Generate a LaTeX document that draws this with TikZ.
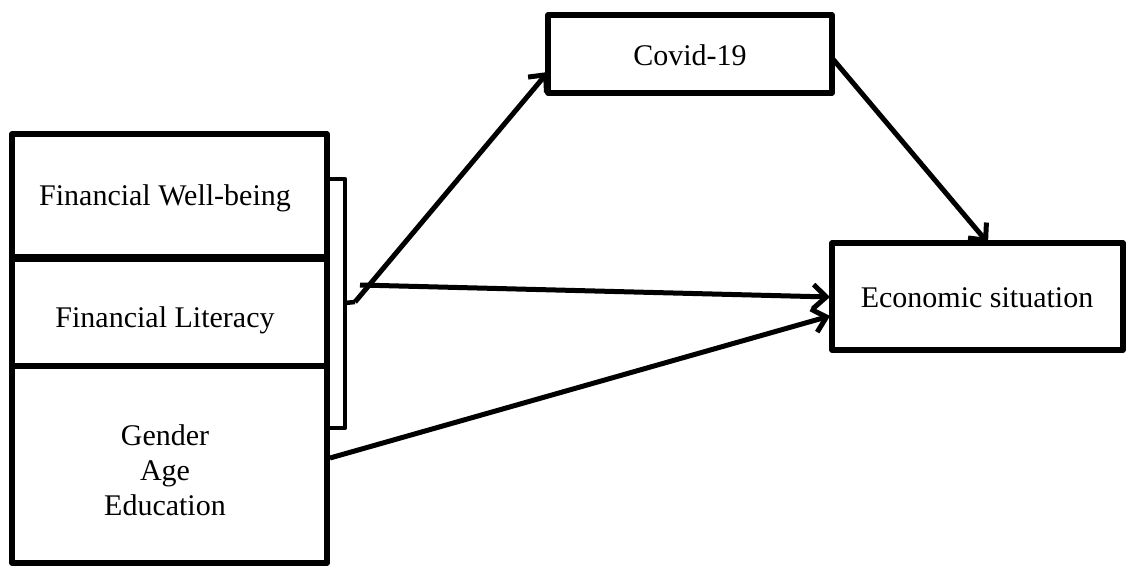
\documentclass[tikz,border=0pt]{standalone}
\usepackage{fontspec}
\setmainfont{Liberation Serif}
\usetikzlibrary{arrows.meta}
\begin{document}
\begin{tikzpicture}[x=1pt,y=-1pt,
  box/.style={draw,line width=5.5pt,line join=round},
  lbl/.style={font=\fontsize{30}{35}\selectfont,align=center},
  arr/.style={line width=5pt,-{Straight Barb[length=13pt,width=24pt,line width=5pt]}}]
\useasboundingbox (0,0) rectangle (1126,568);
% left boxes
\draw[box] (12,134) rectangle (327,257);
\draw[box] (12,257) rectangle (327,366);
\draw[box] (12,366) rectangle (327,563);
\draw[line width=8pt] (12,257.5) -- (327,257.5);
\node[lbl] (fwb) at (165,198) {Financial Well-being};
\node[lbl] (fl) at (165,320) {Financial Literacy};
\node[lbl] (dem) at (165,470) {Gender\\Age\\Education};
% right boxes
\draw[box] (548,15) rectangle (832,93);
\node[lbl] (cov) at (690,55) {Covid-19};
\draw[box] (832,243) rectangle (1123,350);
\node[lbl] (eco) at (977,298) {Economic situation};
% bracket
\draw[line width=4.5pt,line join=round] (330,179) -- (345,179) -- (345,428) -- (330,428);
\coordinate (tick) at (355,302);
\draw[line width=4.5pt] (345,303) -- (tick);
\coordinate (cl) at (548,72);
\coordinate (cr) at (832,58);
\coordinate (et) at (988,243);
\coordinate (hs) at (360,285);
\coordinate (el1) at (830,297);
\coordinate (el2) at (830,316);
\coordinate (gs) at (330,458);
\draw[arr] (tick) -- (cl);
\draw[arr] (cr) -- (et);
\draw[arr] (hs) -- (el1);
\draw[arr] (gs) -- (el2);
\end{tikzpicture}
\end{document}
